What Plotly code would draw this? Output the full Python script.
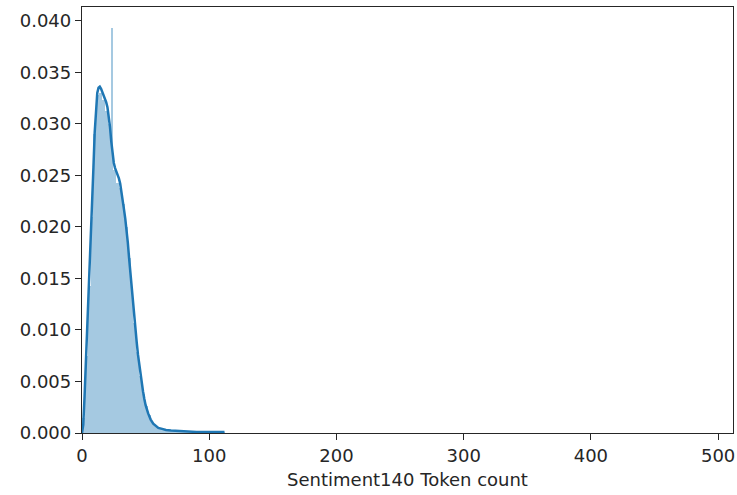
import plotly.graph_objects as go

# Histogram (density) - 50 bins from 0 to ~112.2
bin_start = 0.0
bin_width = 2.244
hist_density = [
    0.0015, 0.0075, 0.0143, 0.0210, 0.0290, 0.0328, 0.0330, 0.0323, 0.0312, 0.0300,
    0.0393, 0.0255, 0.0243, 0.0238, 0.0222, 0.0200, 0.0170, 0.0137, 0.0107, 0.0079,
    0.0055, 0.0038, 0.0026, 0.0017, 0.0011, 0.0008, 0.0006, 0.0005, 0.0004, 0.0003,
    0.0003, 0.0002, 0.0002, 0.0002, 0.0002, 0.00015, 0.00015, 0.00015, 0.00012, 0.00012,
    0.0001, 0.0001, 0.0001, 0.0001, 0.0001, 0.0001, 0.0001, 0.0001, 0.0001, 0.0001,
]

# KDE curve
kde_x = [0, 1, 2, 3, 4, 5, 6, 7, 8, 9, 10, 11, 12, 13, 14, 15, 16, 17, 18, 19,
         20, 21, 22, 23, 24, 25, 26, 27, 28, 29, 30, 31, 32, 33, 34, 35, 36, 37, 38, 39,
         40, 41, 42, 43, 44, 45, 46, 47, 48, 49, 50, 52, 54, 56, 58, 60, 63, 66, 70, 75,
         80, 90, 100, 112]
kde_y = [0.0000, 0.0008, 0.0035, 0.0065, 0.0095, 0.0125, 0.0155, 0.0186, 0.0222, 0.0258,
         0.0292, 0.0318, 0.0330, 0.0335, 0.0336, 0.0334, 0.0331, 0.0328, 0.0325, 0.0321,
         0.0316, 0.0307, 0.0297, 0.0283, 0.0271, 0.0262, 0.0257, 0.0254, 0.0251, 0.0247,
         0.0242, 0.0235, 0.0226, 0.0217, 0.0208, 0.0198, 0.0185, 0.0170, 0.0155, 0.0140,
         0.0126, 0.0113, 0.0100, 0.0088, 0.0076, 0.0066, 0.0056, 0.0047, 0.0040, 0.0033,
         0.0027, 0.0019, 0.0013, 0.0009, 0.0007, 0.0005, 0.0004, 0.0003, 0.00025, 0.0002,
         0.00015, 0.0001, 0.0001, 0.0001]

x_ticks = [0, 100, 200, 300, 400, 500]
y_ticks = [0.000, 0.005, 0.010, 0.015, 0.020, 0.025, 0.030, 0.035, 0.040]
x_label = "Sentiment140 Token count"

bin_centers = [bin_start + (i + 0.5) * bin_width for i in range(len(hist_density))]

fig = go.Figure()
fig.add_trace(go.Bar(
    x=bin_centers, y=hist_density, width=bin_width,
    marker=dict(color="rgba(31,119,180,0.4)", line=dict(width=0)),
    showlegend=False, hoverinfo="skip",
))
fig.add_trace(go.Scatter(
    x=kde_x, y=kde_y, mode="lines",
    line=dict(color="#1f77b4", width=2.5),
    showlegend=False, hoverinfo="skip",
))

font = dict(family="DejaVu Sans", size=18, color="#262626")
fig.update_layout(
    width=737, height=495,
    margin=dict(l=82, r=2, t=7, b=62),
    paper_bgcolor="white", plot_bgcolor="white",
    bargap=0, font=font,
    xaxis=dict(
        range=[0, 511.7], tickvals=x_ticks, ticktext=[str(v) for v in x_ticks],
        showgrid=False, zeroline=False,
        showline=True, linecolor="#262626", linewidth=1.3, mirror=True,
        ticks="outside", ticklen=6, tickwidth=1.2, tickcolor="#262626",
        ticklabeloverflow="allow",
        title=dict(text=x_label, font=font, standoff=8),
        tickfont=font,
    ),
    yaxis=dict(
        range=[0, 0.04133], tickvals=y_ticks, ticktext=[f"{v:.3f}" for v in y_ticks],
        showgrid=False, zeroline=False,
        showline=True, linecolor="#262626", linewidth=1.3, mirror=True,
        ticks="outside", ticklen=6, tickwidth=1.2, tickcolor="#262626",
        tickfont=font,
    ),
)
fig.write_html("out.html")
